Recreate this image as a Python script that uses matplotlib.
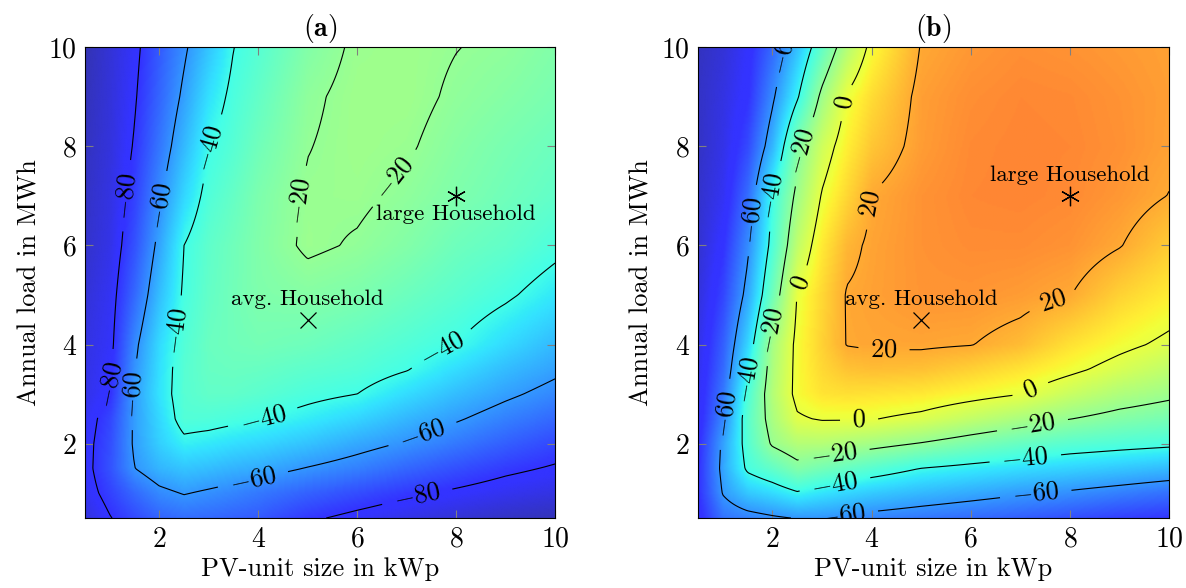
import numpy as np
import matplotlib
matplotlib.use("Agg")
import matplotlib.pyplot as plt
from matplotlib.colors import ListedColormap

plt.rcParams['font.family'] = 'serif'
plt.rcParams['font.serif'] = ['cmr10']
plt.rcParams['mathtext.fontset'] = 'cm'
plt.rcParams['axes.formatter.use_mathtext'] = True

# grid of the two maps
pv_size = [0.5, 1, 1.5, 2, 2.5, 3, 3.5, 4, 5, 6, 7, 8, 9, 10]
annual_load = [0.5, 1, 1.5, 2, 2.5, 3, 3.5, 4, 5, 6, 7, 8, 9, 10]

# (a) values, one row per annual load
values_a = [
    [-88, -80.5, -75, -70, -68, -69, -70.5, -72, -78.5, -82.5, -86, -89, -92, -94],
    [-84, -76.8, -69, -62.5, -59.5, -61.5, -63.5, -66, -70.5, -74.5, -78.5, -81.5, -84.5, -87],
    [-83, -73.5, -60.2, -54, -51, -52.5, -54.5, -56, -60.5, -64.5, -69.5, -74, -78, -81],
    [-83, -74.5, -58.5, -49, -42.5, -44, -46, -47.5, -51.5, -56.5, -61, -66, -71, -75.5],
    [-84, -76, -58.5, -47.2, -36, -36.5, -38, -39.5, -43.4, -48, -53.9, -59, -64.5, -69.2],
    [-86, -80.2, -58.6, -45, -35, -32.3, -32.5, -34, -37.5, -40, -46.6, -52.7, -58.2, -63.2],
    [-86.5, -81.5, -60.5, -45.8, -35, -31.2, -30.5, -31, -33.5, -35.5, -39.5, -46.4, -52.8, -58],
    [-87, -83, -62.5, -46.8, -36, -30.5, -29, -28, -29.5, -32.5, -36, -40, -47, -53.5],
    [-89, -84, -69, -52.3, -38.5, -32, -28.5, -25.5, -24, -26, -30, -34, -38.5, -44.5],
    [-91, -86, -73.5, -57.2, -40, -33, -29, -25, -18.5, -20.8, -24.5, -29.5, -32.5, -37.5],
    [-92, -87, -76.8, -62, -47.5, -36.5, -31.5, -26, -19, -18.5, -21.5, -25.5, -29, -32.5],
    [-93, -88, -79.2, -66.4, -53.3, -40.3, -35, -29, -20.3, -17.5, -19, -23.5, -27, -30],
    [-94, -88.5, -81, -69.7, -58, -45.5, -37.5, -32, -21.5, -17.5, -17.5, -21.3, -24, -27],
    [-95, -89, -82.5, -72, -61.7, -51, -40.2, -35, -24.5, -18.5, -17.5, -19.8, -21.5, -25],
]

# (b) values, one row per annual load
values_b = [
    [-82, -67, -64, -61.5, -59.5, -59.8, -61.5, -63.5, -66, -68.5, -71, -74, -77, -79],
    [-80, -59.5, -50.3, -46.4, -41.2, -44.8, -47.5, -49.9, -53.3, -56.1, -59, -61.5, -64.5, -67.5],
    [-80, -57, -38, -31.8, -24, -27.7, -31, -34.3, -40.2, -43.2, -46, -48.1, -50.3, -52.9],
    [-81, -58, -35, -18.5, -12.2, -12.2, -14, -16, -20.7, -26, -30.8, -34.3, -36.3, -37.9],
    [-83, -63, -33.6, -14.7, -1.3, 0.8, 0.8, 0.5, -2.9, -9, -14.7, -19.8, -24.1, -27.2],
    [-84, -66, -36.5, -12.4, 3, 8, 9, 8.3, 7, 3.7, 0.2, -7.5, -13.6, -17.6],
    [-85, -69, -42, -14, 3, 10.5, 15, 16.2, 15.5, 12.2, 8, 2.4, -3.9, -9.9],
    [-86, -71, -47.6, -15.6, 2.8, 12, 20.3, 21, 21.2, 20.3, 16.5, 8.5, 2.7, -2.3],
    [-88, -76, -56.6, -28.6, 0.4, 10.7, 20.6, 22, 24.5, 24.5, 23, 20.3, 11.8, 6],
    [-90, -80, -62, -36.2, -9.5, 6.8, 17.5, 21.5, 25, 26.5, 26.5, 25, 20.5, 13],
    [-91, -84, -68, -39.5, -17, 0.8, 10.9, 20.3, 25, 27.5, 28, 27, 24, 19.8],
    [-92, -86, -75, -53.7, -24, -5.8, 5.6, 14.3, 23, 27, 28, 27.5, 25.5, 22],
    [-92, -87, -80, -62, -41.5, -17, 1, 9.7, 22.5, 26, 27.5, 27, 25, 22.5],
    [-93, -89, -82, -69, -51.8, -31.7, -12.3, 2.9, 20.5, 24, 26, 25, 23.5, 22],
]

levels_a = [-80, -60, -40, -20]
levels_b = [-60, -40, -20, 0, 20]

label_pos_a = [(1.35, 7.0), (0.8, 3.2), (7.2, 1.0),
               (1.95, 6.8), (1.4, 3.0), (3.9, 1.25), (7.3, 2.25),
               (2.9, 8.0), (2.15, 4.3), (4.1, 2.5), (7.7, 3.95),
               (4.75, 6.9), (6.7, 7.4)]
label_pos_b = [(2.25, 9.9), (1.6, 6.5), (0.95, 2.6), (3.4, 0.65), (7.3, 1.1),
               (1.99, 7.0), (1.47, 3.3), (3.25, 1.25), (7.1, 1.72),
               (2.6, 7.9), (1.9, 4.3), (3.25, 1.75), (7.25, 2.35),
               (3.35, 8.9), (2.4, 5.3), (3.75, 2.45), (7.2, 3.1),
               (3.75, 6.85), (4.25, 3.75), (7.7, 4.75)]

avg_household = (5, 4.5)
large_household = (8, 7)

# jet seen through 80 % opacity on white
jet = plt.get_cmap('jet')(np.linspace(0, 1, 256))
jet[:, :3] = jet[:, :3] * 0.8 + 0.2
cmap = ListedColormap(jet)


def upsample(xs, ys, z, n=300):
    xf = np.linspace(xs[0], xs[-1], n)
    yf = np.linspace(ys[0], ys[-1], n)
    z = np.asarray(z, dtype=float)
    rows = np.array([np.interp(xf, xs, r) for r in z])
    out = np.array([np.interp(yf, ys, rows[:, j]) for j in range(n)]).T
    return xf, yf, out


fig = plt.figure(figsize=(11.86, 5.88), dpi=100)
ax1 = fig.add_axes([0.0717, 0.119, 0.3963, 0.801])
ax2 = fig.add_axes([0.5885, 0.119, 0.3972, 0.801])

panels = [(ax1, values_a, levels_a, label_pos_a, r'$\mathbf{(a)}$', (8, 6.62)),
          (ax2, values_b, levels_b, label_pos_b, r'$\mathbf{(b)}$', (8, 7.42))]

for ax, z, levels, lpos, title, large_txt in panels:
    xf, yf, zf = upsample(pv_size, annual_load, z)
    ax.imshow(zf, origin='lower', extent=[0.5, 10, 0.5, 10], cmap=cmap,
              vmin=-100, vmax=60, aspect='auto', interpolation='bilinear')
    cs = ax.contour(xf, yf, zf, levels=levels, colors='k', linewidths=0.8,
                    negative_linestyles='solid')
    labels = ax.clabel(cs, inline=True, fontsize=19, manual=lpos,
                       fmt=lambda v: r'$%d$' % v, inline_spacing=12)
    for t in labels:
        t.set_clip_on(True)

    ax.plot(*avg_household, marker='x', color='k', ms=12, mew=0.9)
    ax.plot(*large_household, marker=(6, 2, 0), color='k', ms=14, mew=0.9)
    ax.text(5.0, 4.92, 'avg. Household', ha='center', va='center', fontsize=16.5)
    ax.text(large_txt[0], large_txt[1], 'large Household', ha='center',
            va='center', fontsize=16.5)

    ax.set_xlim(0.5, 10)
    ax.set_ylim(0.5, 10)
    ax.set_xticks([2, 4, 6, 8, 10])
    ax.set_yticks([2, 4, 6, 8, 10])
    ax.tick_params(direction='in', top=True, right=True, length=6,
                   color='gray', labelsize=20, pad=6)
    ax.set_xlabel('PV-unit size in kWp', fontsize=19, labelpad=3)
    ax.set_ylabel('Annual load in MWh', fontsize=19, labelpad=5)
    ax.set_title(title, fontsize=20, pad=8)

fig.savefig('out.png', dpi=100)
